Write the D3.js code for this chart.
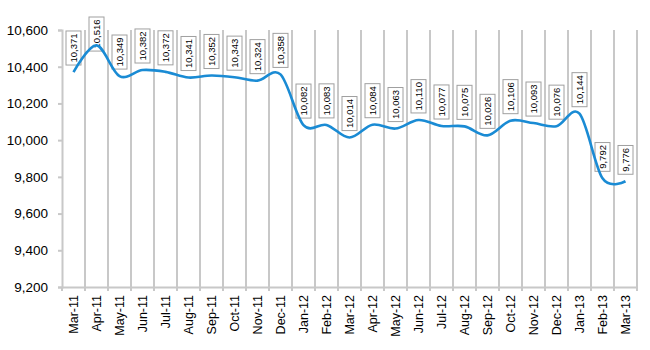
<!DOCTYPE html>
<html><head><meta charset="utf-8">
<script src="https://cdn.jsdelivr.net/npm/d3@7"></script>
<style>html,body{margin:0;padding:0;background:#fff}svg{display:block}</style>
</head><body>
<script>
const categories = ["Mar-11","Apr-11","May-11","Jun-11","Jul-11","Aug-11","Sep-11","Oct-11","Nov-11","Dec-11","Jan-12","Feb-12","Mar-12","Apr-12","May-12","Jun-12","Jul-12","Aug-12","Sep-12","Oct-12","Nov-12","Dec-12","Jan-13","Feb-13","Mar-13"];
const values = [10371,10516,10349,10382,10372,10341,10352,10343,10324,10358,10082,10083,10014,10084,10063,10110,10077,10075,10026,10106,10093,10076,10144,9792,9776];
const yTicks = [9200,9400,9600,9800,10000,10200,10400,10600];

const W = 650, H = 350;
const m = {left: 62, right: 13, top: 30, bottom: 63};
const svg = d3.select("body").append("svg").attr("width", W).attr("height", H);
const font = "'Liberation Sans', Arial, sans-serif";

const x = d3.scaleBand().domain(categories).range([m.left, W - m.right]);
const y = d3.scaleLinear().domain([9200, 10600]).range([H - m.bottom, m.top]);
const grid = "#c8c8c8";

// vertical gridlines at category boundaries
const bounds = categories.map(c => x(c) + x.bandwidth());
svg.append("g").selectAll("line").data(bounds).join("line")
  .attr("x1", d => d).attr("x2", d => d)
  .attr("y1", m.top).attr("y2", H - m.bottom + 4)
  .attr("stroke", grid).attr("stroke-width", 2);

// y axis
const yAxis = svg.append("g").attr("transform", `translate(${m.left},0)`)
  .call(d3.axisLeft(y).tickValues(yTicks).tickFormat(d3.format(",")).tickSize(4).tickPadding(10));
yAxis.select(".domain").attr("stroke", grid).attr("stroke-width", 2);
yAxis.selectAll(".tick line").attr("stroke", grid).attr("stroke-width", 2);
yAxis.selectAll("text").attr("font-family", font).attr("font-size", 13.5).attr("fill", "#000");

// x axis
const xAxis = svg.append("g").attr("transform", `translate(0,${H - m.bottom})`)
  .call(d3.axisBottom(x).tickSize(0).tickPadding(8));
xAxis.select(".domain").attr("stroke", grid).attr("stroke-width", 2);
xAxis.selectAll("text")
  .attr("font-family", font).attr("font-size", 12.5).attr("fill", "#000")
  .attr("transform", "rotate(-90)")
  .attr("text-anchor", "end").attr("dx", "-8").attr("dy", "0.35em").attr("y", 0);
svg.append("g").selectAll("line").data([m.left].concat(bounds)).join("line")
  .attr("x1", d => d).attr("x2", d => d)
  .attr("y1", H - m.bottom).attr("y2", H - m.bottom + 4)
  .attr("stroke", grid).attr("stroke-width", 2);

// data labels
const fmt = d3.format(",");
const lg = svg.append("g");
values.forEach((v, i) => {
  const cx = x(categories[i]) + x.bandwidth() / 2;
  const t = lg.append("text").text(fmt(v))
    .attr("font-family", font).attr("font-size", 9.5).attr("fill", "#000");
  const len = t.node().getComputedTextLength();
  const h = len + 5, w = 15;
  let bottom = y(v) - 7;
  let top = bottom - h;
  if (top < 17) { top = 17; bottom = top + h; }
  lg.insert("rect", "text")
    .attr("x", cx - w / 2).attr("y", top).attr("width", w).attr("height", h)
    .attr("fill", "#fff").attr("stroke", "#a0a0a0").attr("stroke-width", 1);
  t.attr("transform", `translate(${cx + 3.3},${(top + bottom) / 2}) rotate(-90)`)
    .attr("text-anchor", "middle");
});

// line (Excel-style smoothing), drawn over labels
const line = d3.line()
  .x((d, i) => x(categories[i]) + x.bandwidth() / 2)
  .y(d => y(d))
  .curve(d3.curveCardinal.tension(0));
svg.append("path").datum(values)
  .attr("d", line).attr("fill", "none")
  .attr("stroke", "#1a8bd4").attr("stroke-width", 2.6);
</script>
</body></html>
